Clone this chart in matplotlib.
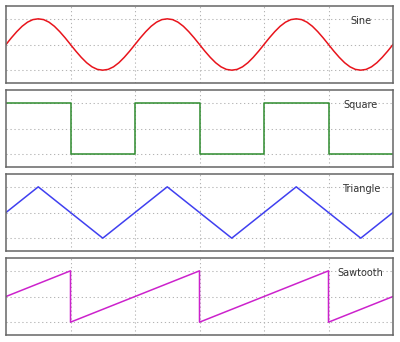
import matplotlib
matplotlib.use('Agg')
import matplotlib.pyplot as plt

### Waveform data (x in grid units, 0..6)
sine_period = [0, 0.26, 0.5, 0.71, 0.87, 0.97, 1, 0.97, 0.87, 0.71, 0.5, 0.26,
               0, -0.26, -0.5, -0.71, -0.87, -0.97, -1, -0.97, -0.87, -0.71, -0.5, -0.26]
sine_y = sine_period * 3 + [0]
sine_x = [i / 12 for i in range(len(sine_y))]

square_x = [0, 1, 1, 2, 2, 3, 3, 4, 4, 5, 5, 6]
square_y = [1, 1, -1, -1, 1, 1, -1, -1, 1, 1, -1, -1]

triangle_x = [0, 0.5, 1.5, 2.5, 3.5, 4.5, 5.5, 6]
triangle_y = [0, 1, -1, 1, -1, 1, -1, 0]

sawtooth_x = [0, 1, 1, 3, 3, 5, 5, 6]
sawtooth_y = [0, 1, -1, 1, -1, 1, -1, 0]

names = ['Sine', 'Square', 'Triangle', 'Sawtooth']
colors = ['#e8141c', '#2e8b2e', '#4040f0', '#cc22cc']
series = [(sine_x, sine_y), (square_x, square_y),
          (triangle_x, triangle_y), (sawtooth_x, sawtooth_y)]

fig = plt.figure(figsize=(4, 3.42), dpi=100)
W, H = 400.0, 342.0
tops = [6, 90, 174, 258]
for i in range(4):
    ax = fig.add_axes([6 / W, 1 - (tops[i] + 77) / H, 387 / W, 77 / H])
    x, y = series[i]
    ax.plot(x, y, color=colors[i], linewidth=1.1)
    ax.set_xlim(0, 6)
    ax.set_ylim(-1.5, 1.5)
    ax.set_xticks([1, 2, 3, 4, 5])
    ax.set_yticks([-1, 0, 1])
    ax.tick_params(length=0, labelbottom=False, labelleft=False)
    ax.grid(True, color='#b4b4b4', linestyle=(0, (1.2, 2.6)), linewidth=0.75)
    ax.set_axisbelow(True)
    for s in ax.spines.values():
        s.set_color('#666666')
        s.set_linewidth(1.1)
    ax.text(5.5, 0.93, names[i], ha='center', va='center', fontsize=7,
            color='#333333')

fig.savefig('out.png', dpi=100)
